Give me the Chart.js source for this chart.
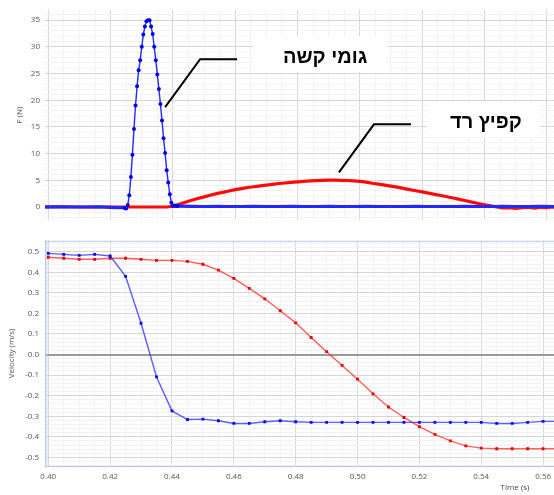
<!DOCTYPE html>
<html>
<head>
<meta charset="utf-8">
<script src="https://cdn.jsdelivr.net/npm/chart.js@4.4.1/dist/chart.umd.min.js"></script>
<style>
  html, body { margin: 0; padding: 0; background: #fff; overflow: hidden; }
  body { width: 554px; height: 495px; position: relative; }
  .box { position: absolute; left: 0; width: 600px; }
  #forceBox { top: 0; height: 230px; }
  #velBox { top: 230px; height: 265px; }
</style>
</head>
<body>
<div class="box" id="forceBox"><canvas id="forceChart"></canvas></div>
<div class="box" id="velBox"><canvas id="velocityChart"></canvas></div>
<script>
// force sensor, hard rubber (blue)
const hardForceTime = [
  0.396, 0.400, 0.404, 0.408, 0.412, 0.416, 0.420, 0.422, 0.424, 0.4245, 0.425, 0.4255,
  0.426, 0.4265, 0.427, 0.4275, 0.428, 0.4285, 0.429, 0.4295, 0.430, 0.4305, 0.431, 0.4315,
  0.432, 0.4325, 0.433, 0.4335, 0.434, 0.4345, 0.435, 0.4355, 0.436, 0.4365, 0.437, 0.4375,
  0.438, 0.4385, 0.439, 0.4395, 0.440, 0.4405, 0.441, 0.4415, 0.442,
  0.446, 0.450, 0.454, 0.458, 0.462, 0.466, 0.470, 0.474, 0.478, 0.482, 0.486, 0.490,
  0.494, 0.498, 0.502, 0.506, 0.510, 0.514, 0.518, 0.522, 0.526, 0.530, 0.534, 0.538,
  0.542, 0.546, 0.550, 0.554, 0.558, 0.562, 0.566, 0.570, 0.574, 0.580
];
const hardForce = [
  0, 0, 0.05, 0, 0, 0.05, -0.05, -0.1, -0.1, -0.2, -0.3, 0.4,
  2.2, 5.6, 9.8, 14.6, 19.0, 22.6, 25.6, 27.5, 30.0, 32.3, 33.8, 34.8,
  35.0, 35.0, 33.8, 32.4, 30.0, 27.5, 24.8, 22.1, 19.3, 16.2, 12.9, 10.1,
  6.9, 4.6, 2.4, 0.8, 0.2, 0.3, 0.2, 0.2, 0.15,
  0.12, 0.1, 0.12, 0.1, 0.1, 0.12, 0.1, 0.1, 0.12, 0.1, 0.1, 0.12,
  0.1, 0.1, 0.12, 0.1, 0.1, 0.1, 0.12, 0.1, 0.1, 0.1, 0.12, 0.1,
  0.1, 0.12, 0.1, 0.1, 0.12, 0.1, 0.1, 0.12, 0.1, 0.1
];

// force sensor, soft spring (red)
const softForceTime = [
  0.396, 0.404, 0.412, 0.420, 0.428, 0.434, 0.438,
  0.440, 0.442, 0.444, 0.446, 0.448, 0.450, 0.452, 0.454, 0.456, 0.458,
  0.460, 0.462, 0.464, 0.466, 0.468, 0.470, 0.472, 0.474, 0.476, 0.478,
  0.480, 0.482, 0.484, 0.486, 0.488, 0.490, 0.492, 0.494, 0.496, 0.498,
  0.500, 0.502, 0.504, 0.506, 0.508, 0.510, 0.512, 0.514, 0.516, 0.518,
  0.520, 0.522, 0.524, 0.526, 0.528, 0.530, 0.532, 0.534, 0.536, 0.538,
  0.540, 0.542, 0.544, 0.546, 0.548, 0.550, 0.552, 0.554, 0.556, 0.558,
  0.560, 0.562, 0.566, 0.570, 0.575, 0.580
];
const softForce = [
  0, 0.05, 0, 0, 0, 0, 0,
  0.15, 0.5, 0.9, 1.25, 1.6, 1.9, 2.2, 2.5, 2.75, 3.0,
  3.25, 3.45, 3.65, 3.8, 3.95, 4.1, 4.25, 4.4, 4.5, 4.62,
  4.72, 4.8, 4.88, 4.94, 4.98, 5.02, 5.03, 5.0, 4.97, 4.9,
  4.82, 4.66, 4.45, 4.28, 4.1, 3.92, 3.72, 3.5, 3.27, 3.05,
  2.83, 2.6, 2.38, 2.15, 1.92, 1.68, 1.43, 1.17, 0.92, 0.66,
  0.42, 0.2, 0.0, -0.15, -0.1, -0.25, -0.1, -0.05, -0.2, -0.05,
  -0.1, 0.0, -0.05, 0, -0.05, 0
];

// velocity, every 5 ms
const velocityTime = [
  0.400, 0.405, 0.410, 0.415, 0.420, 0.425, 0.430, 0.435, 0.440, 0.445,
  0.450, 0.455, 0.460, 0.465, 0.470, 0.475, 0.480, 0.485, 0.490, 0.495,
  0.500, 0.505, 0.510, 0.515, 0.520, 0.525, 0.530, 0.535, 0.540, 0.545,
  0.550, 0.555, 0.560, 0.565
];
const hardVelocity = [
  0.492, 0.487, 0.482, 0.487, 0.479, 0.380, 0.152, -0.109, -0.274, -0.316,
  -0.314, -0.322, -0.335, -0.335, -0.327, -0.322, -0.327, -0.330, -0.330, -0.330,
  -0.330, -0.330, -0.330, -0.330, -0.330, -0.330, -0.330, -0.330, -0.330, -0.335,
  -0.335, -0.330, -0.325, -0.325
];
const softVelocity = [
  0.473, 0.468, 0.463, 0.463, 0.468, 0.468, 0.463, 0.458, 0.458, 0.453,
  0.439, 0.410, 0.370, 0.322, 0.271, 0.213, 0.154, 0.083, 0.014, -0.053,
  -0.120, -0.191, -0.255, -0.306, -0.351, -0.388, -0.420, -0.444, -0.455, -0.458,
  -0.458, -0.458, -0.458, -0.458
];

const callouts = [
  { text: 'גומי קשה', at: [0.4375, 18.7], boxW: 134, textDx: 160 },
  { text: 'קפיץ רד', at: [0.4933, 6.5], boxW: 113, textDx: 147 }
];

const toPoints = (xs, ys) => xs.map((x, i) => ({ x: x, y: ys[i] }));
const isMult = (v, step) => Math.abs(v / step - Math.round(v / step)) < 1e-6;

const tickFont = { family: 'Open Sans', size: 8 };
const tickColor = '#555';
const majorGrid = '#d6d6d6';
const minorGrid = '#f2f2f2';

const timeMin = 0.39894, timeMax = 0.5771;

function timeAxis(showLabels) {
  return {
    type: 'linear',
    min: timeMin,
    max: timeMax,
    border: { display: showLabels, color: '#b4c6ee' },
    grid: {
      drawTicks: false,
      color: ctx => isMult(ctx.tick.value, 0.02) ? majorGrid : minorGrid
    },
    ticks: {
      display: showLabels,
      stepSize: 0.005,
      includeBounds: false,
      autoSkip: false,
      maxRotation: 0,
      padding: 6,
      color: tickColor,
      font: tickFont,
      callback: v => isMult(v, 0.02) ? v.toFixed(2) : ''
    },
    afterFit: s => { if (showLabels) s.height = 29; }
  };
}

const inPulse = t => t >= 0.4245 && t <= 0.4415;

const calloutPlugin = {
  id: 'callouts',
  afterDatasetsDraw(chart) {
    const { ctx, scales: { x, y } } = chart;
    callouts.forEach(c => {
      const ax = x.getPixelForValue(c.at[0]);
      const ay = y.getPixelForValue(c.at[1]);
      ctx.save();
      ctx.fillStyle = '#fff';
      ctx.fillRect(ax + 88, ay - 71, c.boxW, 36);
      ctx.strokeStyle = '#000';
      ctx.lineWidth = 2;
      ctx.beginPath();
      ctx.moveTo(ax, ay);
      ctx.lineTo(ax + 35, ay - 48);
      ctx.lineTo(ax + 72, ay - 48);
      ctx.stroke();
      ctx.fillStyle = '#000';
      ctx.font = 'bold 20px "Liberation Sans"';
      ctx.textAlign = 'center';
      ctx.textBaseline = 'middle';
      ctx.fillText(c.text, ax + c.textDx, ay - 50);
      ctx.restore();
    });
  }
};

const framePlugin = {
  id: 'frame',
  beforeDatasetsDraw(chart) {
    const { ctx, chartArea: a } = chart;
    ctx.save();
    ctx.fillStyle = 'rgba(190,205,240,0.35)';
    ctx.fillRect(a.left, a.top, 4, a.bottom - a.top);
    ctx.strokeStyle = '#b4c6ee';
    ctx.lineWidth = 1;
    ctx.beginPath();
    ctx.moveTo(a.left, a.top + 0.5);
    ctx.lineTo(a.right, a.top + 0.5);
    ctx.stroke();
    ctx.restore();
  },
  afterDraw(chart) {
    const { ctx } = chart;
    ctx.save();
    ctx.fillStyle = '#444';
    ctx.font = '8px "Open Sans"';
    ctx.textAlign = 'center';
    ctx.textBaseline = 'middle';
    ctx.fillText('Time (s)', 515, 258);
    ctx.restore();
  }
};

const forceChart = new Chart(document.getElementById('forceChart'), {
  type: 'line',
  data: {
    datasets: [{
      data: toPoints(hardForceTime, hardForce),
      borderColor: '#2626ff',
      backgroundColor: '#0000e6',
      pointBackgroundColor: '#0000e6',
      pointBorderWidth: 0,
      pointRadius: ctx => (ctx.raw && inPulse(ctx.raw.x)) ? 2 : 0,
      borderWidth: 3.2,
      segment: {
        borderWidth: ctx => (inPulse(ctx.p0.parsed.x) && inPulse(ctx.p1.parsed.x)) ? 1.4 : 3.2
      },
      tension: 0
    }, {
      data: toPoints(softForceTime, softForce),
      borderColor: '#ff0a0a',
      pointRadius: 0,
      borderWidth: 3.2,
      tension: 0
    }]
  },
  options: {
    animation: false,
    responsive: true,
    maintainAspectRatio: false,
    layout: { padding: { top: 5, bottom: 2, left: 0, right: 0 } },
    plugins: { legend: { display: false }, tooltip: { enabled: false } },
    scales: {
      x: timeAxis(false),
      y: {
        min: -2.47,
        max: 36.94,
        border: { display: false },
        grid: {
          drawTicks: false,
          color: ctx => isMult(ctx.tick.value, 5) ? majorGrid : minorGrid
        },
        ticks: {
          stepSize: 1,
          includeBounds: false,
          autoSkip: false,
          padding: 5,
          color: tickColor,
          font: tickFont,
          callback: v => isMult(v, 5) ? String(Math.round(v)) : ''
        },
        title: {
          display: true,
          text: 'F (N)',
          color: '#555',
          font: tickFont,
          padding: { top: 15, bottom: 0 }
        },
        afterFit: s => { s.width = 45; }
      }
    }
  },
  plugins: [calloutPlugin]
});

const velocityChart = new Chart(document.getElementById('velocityChart'), {
  type: 'line',
  data: {
    datasets: [{
      data: toPoints(velocityTime, hardVelocity),
      borderColor: 'rgba(40,40,255,0.75)',
      pointBackgroundColor: '#0a0ae6',
      pointBorderWidth: 0,
      pointStyle: 'rect',
      pointRadius: 2,
      borderWidth: 1.4,
      tension: 0
    }, {
      data: toPoints(velocityTime, softVelocity),
      borderColor: 'rgba(255,40,40,0.75)',
      pointBackgroundColor: '#e60000',
      pointBorderWidth: 0,
      pointStyle: 'rect',
      pointRadius: 2,
      borderWidth: 1.4,
      tension: 0
    }]
  },
  options: {
    animation: false,
    responsive: true,
    maintainAspectRatio: false,
    layout: { padding: { top: 8, bottom: 0, left: 0, right: 0 } },
    plugins: { legend: { display: false }, tooltip: { enabled: false } },
    scales: {
      x: timeAxis(true),
      y: {
        min: -0.542,
        max: 0.553,
        border: { display: true, color: '#b4c6ee' },
        grid: {
          drawTicks: false,
          color: ctx => Math.abs(ctx.tick.value) < 1e-9 ? '#9a9a9a'
            : (isMult(ctx.tick.value, 0.1) ? majorGrid : minorGrid),
          lineWidth: ctx => Math.abs(ctx.tick.value) < 1e-9 ? 2 : 1
        },
        ticks: {
          stepSize: 0.02,
          includeBounds: false,
          autoSkip: false,
          padding: 6,
          color: tickColor,
          font: tickFont,
          callback: v => isMult(v, 0.1) ? v.toFixed(1) : ''
        },
        title: {
          display: true,
          text: 'Velocity (m/s)',
          color: '#555',
          font: tickFont,
          padding: { top: 7, bottom: 0 }
        },
        afterFit: s => { s.width = 45; }
      }
    }
  },
  plugins: [framePlugin]
});
</script>
</body>
</html>
